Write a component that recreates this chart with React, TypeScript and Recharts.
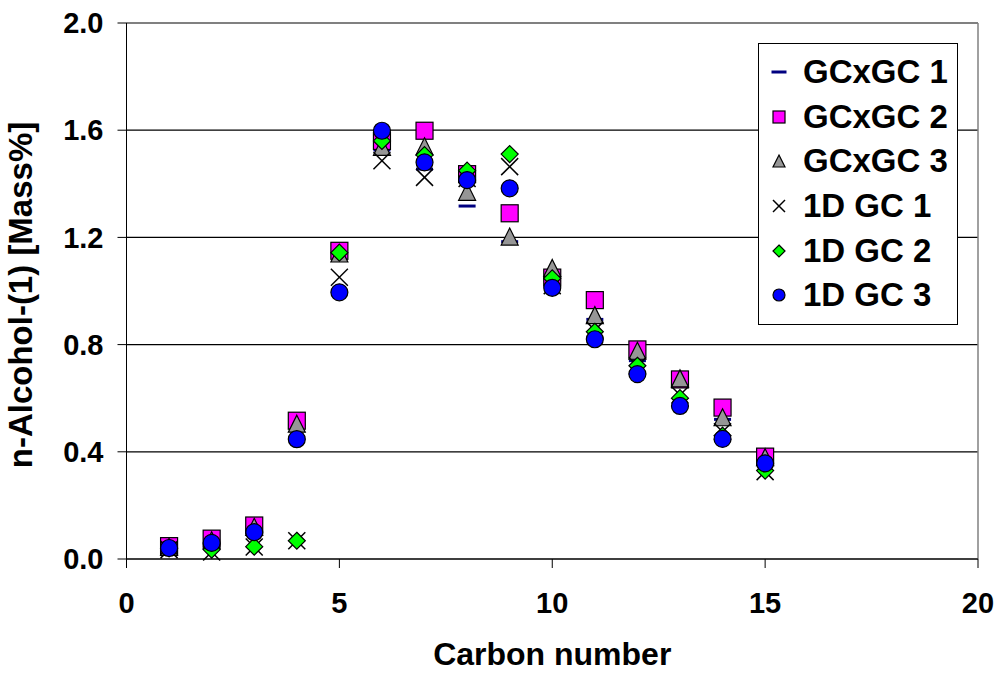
import React from "react"
import {
  ScatterChart,
  Scatter,
  XAxis,
  YAxis,
  CartesianGrid,
  ReferenceLine,
} from "recharts"

const carbons = [1, 2, 3, 4, 5, 6, 7, 8, 9, 10, 11, 12, 13, 14, 15]

const gcxgc1 = [0.04, 0.07, 0.12, 0.5, 1.14, 1.526, 1.455, 1.317, 1.184, 1.04, 0.894, 0.74, 0.66, 0.521, 0.37]
const gcxgc2 = [0.048, 0.076, 0.125, 0.516, 1.15, 1.56, 1.598, 1.436, 1.29, 1.05, 0.966, 0.782, 0.67, 0.565, 0.382]
const gcxgc3 = [0.045, 0.07, 0.12, 0.505, 1.14, 1.538, 1.54, 1.37, 1.203, 1.086, 0.91, 0.777, 0.674, 0.529, 0.38]
const gc1d1 = [0.035, 0.026, 0.045, 0.068, 1.051, 1.486, 1.424, 1.42, 1.464, 1.02, 0.854, 0.72, 0.612, 0.475, 0.326]
const gc1d2 = [0.04, 0.035, 0.046, 0.068, 1.143, 1.56, 1.507, 1.449, 1.511, 1.047, 0.848, 0.721, 0.6, 0.46, 0.33]
const gc1d3 = [0.041, 0.06, 0.1, 0.447, 0.995, 1.598, 1.48, 1.414, 1.383, 1.012, 0.82, 0.69, 0.571, 0.448, 0.357]

const xTicks = [0, 5, 10, 15, 20]
const yTicks = [0, 0.4, 0.8, 1.2, 1.6, 2.0]

const FONT = "'Liberation Sans', Arial, Helvetica, sans-serif"

type Kind = "dash" | "square" | "triangle" | "cross" | "diamond" | "circle"

const series: { name: string; values: number[]; kind: Kind }[] = [
  { name: "GCxGC 1", values: gcxgc1, kind: "dash" },
  { name: "GCxGC 2", values: gcxgc2, kind: "square" },
  { name: "GCxGC 3", values: gcxgc3, kind: "triangle" },
  { name: "1D GC 1", values: gc1d1, kind: "cross" },
  { name: "1D GC 2", values: gc1d2, kind: "diamond" },
  { name: "1D GC 3", values: gc1d3, kind: "circle" },
]

function marker(kind: Kind, cx: number, cy: number, s: number) {
  const h = s / 2
  switch (kind) {
    case "dash":
      return <rect x={cx - h} y={cy - 1.5} width={s} height={3} fill="#000080" />
    case "square":
      return <rect x={cx - h} y={cy - h} width={s} height={s} fill="#FF00FF" stroke="#000" strokeWidth={1.2} />
    case "triangle":
      return (
        <polygon
          points={`${cx},${cy - h} ${cx + h},${cy + h} ${cx - h},${cy + h}`}
          fill="#969696"
          stroke="#000"
          strokeWidth={1.2}
        />
      )
    case "cross":
      return (
        <g stroke="#000" strokeWidth={1.5}>
          <line x1={cx - h} y1={cy - h} x2={cx + h} y2={cy + h} />
          <line x1={cx - h} y1={cy + h} x2={cx + h} y2={cy - h} />
        </g>
      )
    case "diamond":
      return (
        <polygon
          points={`${cx},${cy - h} ${cx + h},${cy} ${cx},${cy + h} ${cx - h},${cy}`}
          fill="#00FF00"
          stroke="#000"
          strokeWidth={1.2}
        />
      )
    default:
      return <circle cx={cx} cy={cy} r={h} fill="#0000FF" stroke="#000" strokeWidth={1.2} />
  }
}

function LegendBox() {
  return (
    <div
      style={{
        position: "absolute",
        left: 758,
        top: 43,
        width: 198,
        height: 274,
        border: "1px solid #000",
        background: "#fff",
        boxSizing: "content-box",
        paddingTop: 6,
        fontFamily: FONT,
      }}
    >
      {series.map((s) => (
        <div key={s.name} style={{ display: "flex", alignItems: "center", height: 44.6 }}>
          <svg width={44} height={30} style={{ flex: "none" }}>
            {marker(s.kind, 20, 15, s.kind === "dash" ? 15 : 12)}
          </svg>
          <span style={{ fontSize: 33, fontWeight: "bold", color: "#000", lineHeight: "30px", whiteSpace: "nowrap" }}>
            {s.name}
          </span>
        </div>
      ))}
    </div>
  )
}

export default function App() {
  return (
    <div style={{ position: "absolute", left: 0, top: 0, width: 999, height: 674, background: "#fff" }}>
      <ScatterChart width={999} height={674} margin={{ top: 23, right: 21, left: 0, bottom: 0 }}>
        <CartesianGrid vertical={false} stroke="#000" strokeWidth={1.2} />
        <XAxis
          type="number"
          dataKey="x"
          domain={[0, 20]}
          ticks={xTicks}
          height={115}
          stroke="#000"
          tickSize={9}
          tickMargin={24}
          tick={{ fontSize: 29, fontWeight: "bold", fill: "#000", fontFamily: FONT }}
          label={{
            value: "Carbon number",
            position: "insideBottom",
            offset: 9,
            style: { fontSize: 32, fontWeight: "bold", fill: "#000", fontFamily: FONT },
          }}
        />
        <YAxis
          type="number"
          dataKey="y"
          domain={[0, 2]}
          ticks={yTicks}
          width={126.5}
          stroke="#000"
          tickSize={9}
          tickMargin={14}
          tickFormatter={(v: number) => v.toFixed(1)}
          tick={{ fontSize: 29, fontWeight: "bold", fill: "#000", fontFamily: FONT }}
          label={{
            value: "n-Alcohol-(1) [Mass%]",
            angle: -90,
            position: "insideLeft",
            offset: 20,
            dy: 4,
            style: { fontSize: 33, fontWeight: "bold", fill: "#000", fontFamily: FONT, textAnchor: "middle" },
          }}
        />
        <ReferenceLine y={2} stroke="#808080" strokeWidth={1.5} />
        <ReferenceLine x={20} stroke="#808080" strokeWidth={1.5} />
        {series.map((s) => (
          <Scatter
            key={s.name}
            name={s.name}
            data={carbons.map((c, i) => ({ x: c, y: s.values[i] }))}
            isAnimationActive={false}
            shape={(p: any) => marker(s.kind, p.cx, p.cy, 17)}
          />
        ))}
      </ScatterChart>
      <LegendBox />
    </div>
  )
}
